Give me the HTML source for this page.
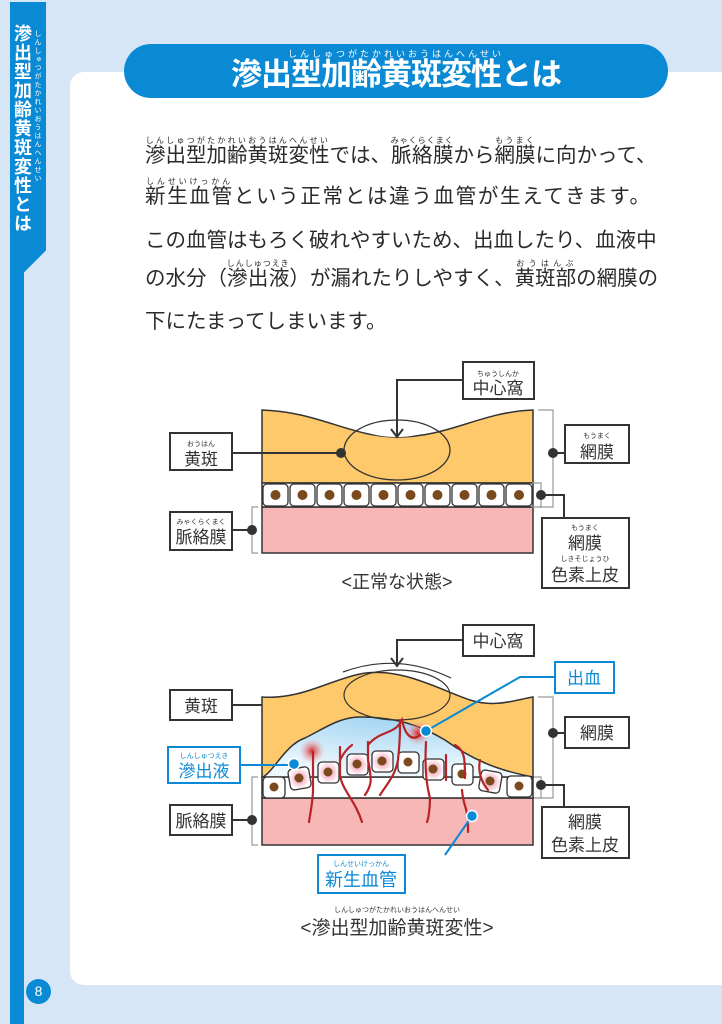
<!DOCTYPE html>
<html><head><meta charset="utf-8"><style>
*{margin:0;padding:0;box-sizing:border-box}
body{width:722px;height:1024px;overflow:hidden;background:#d6e6f6;position:relative;font-family:"Liberation Sans","Noto Sans CJK JP",sans-serif;color:#2a2a2a}
.panel{position:absolute;left:70px;top:72px;width:660px;height:913px;background:#fff;border-radius:14px 0 0 14px}
.side{position:absolute;left:10px;top:2px;width:36px;height:270px;background:#0a8ad4;clip-path:polygon(0 0,100% 0,100% 92%,40% 100%,0 100%)}
.side2{position:absolute;left:10px;top:270px;width:14px;height:754px;background:#0a8ad4}
.stext{position:absolute;left:12px;top:24px;height:220px;writing-mode:vertical-rl;color:#fff;font-weight:bold;font-size:18px;letter-spacing:1px;line-height:20px;width:20px}
.sruby{position:absolute;left:33px;top:30px;height:200px;writing-mode:vertical-rl;color:#fff;font-size:7px;letter-spacing:1.5px;line-height:9px;width:9px}
.pnum{position:absolute;left:26px;top:979px;width:25px;height:25px;border-radius:50%;background:#0a8ad4;color:#fff;font-size:14px;text-align:center;line-height:25px}
.pill{position:absolute;left:124px;top:44px;width:544px;height:54px;background:#0a8ad4;border-radius:27px;color:#fff;text-align:center}
.pill .t{position:absolute;left:0;right:0;top:14px;font-size:31px;font-weight:bold;line-height:34px;letter-spacing:-1px}
.pill .r{position:absolute;left:0;right:0;top:3px;font-size:9px;letter-spacing:3px}
.line{position:absolute;left:145px;width:505px;font-size:20.5px;line-height:24px;text-align:justify;text-align-last:justify;white-space:nowrap}
ruby{ruby-position:over}
rt{font-size:8px;letter-spacing:1px}
svg{position:absolute;left:0;top:0}
svg text{font-family:"Liberation Sans","Noto Sans CJK JP",sans-serif}
</style></head><body>
<div class="panel"></div>
<div class="side"></div><div class="side2"></div>
<div class="stext">滲出型加齢黄斑変性とは</div>
<div class="sruby">しんしゅつがたかれいおうはんへんせい</div>
<div class="pnum">8</div>
<div class="pill"><div class="r">しんしゅつがたかれいおうはんへんせい</div><div class="t">滲出型加齢黄斑変性とは</div></div>

<div class="line" style="top:136px;line-height:20px"><ruby>滲出型加齢黄斑変性<rt>しんしゅつがたかれいおうはんへんせい</rt></ruby>では、<ruby>脈絡膜<rt>みゃくらくまく</rt></ruby>から<ruby>網膜<rt>もうまく</rt></ruby>に向かって、</div>
<div class="line" style="top:177px;line-height:20px"><ruby>新生血管<rt>しんせいけっかん</rt></ruby>という正常とは違う血管が生えてきます。</div>
<div class="line" style="top:229px">この血管はもろく破れやすいため、出血したり、血液中</div>
<div class="line" style="top:259px;line-height:20px">の水分（<ruby>滲出液<rt>しんしゅつえき</rt></ruby>）が漏れたりしやすく、<ruby>黄斑部<rt>おうはんぶ</rt></ruby>の網膜の</div>
<div class="line" style="top:310px;width:auto;text-align:left;text-align-last:left">下にたまってしまいます。</div>

<svg width="722" height="1024" viewBox="0 0 722 1024">
<defs>
<radialGradient id="fl" cx="50%" cy="0%" r="90%"><stop offset="0" stop-color="#9fd3f2"/><stop offset="1" stop-color="#eef8fd"/></radialGradient>
<radialGradient id="bl"><stop offset="0" stop-color="#d42a2a"/><stop offset="1" stop-color="#f4b0b0" stop-opacity="0"/></radialGradient>
<radialGradient id="pc"><stop offset="0" stop-color="#f08aa6"/><stop offset="1" stop-color="#fff"/></radialGradient>
</defs>
<!-- Diagram 1 -->
<g stroke="#333" stroke-width="1.5">
<path d="M262,410 C320,412 350,437 397,437 C450,437 480,412 533,410 L533,483 L262,483 Z" fill="#fdc96b"/>
<rect x="262" y="507" width="271" height="46" fill="#f6b7b6"/>
<rect x="262" y="483" width="271" height="24" fill="#fff"/>
</g>
<path d="M353,428 Q397,410 441,428 C420,435 410,437 397,437 C380,437 370,434 353,428Z" fill="#fff"/>
<ellipse cx="397" cy="450" rx="53" ry="30" fill="none" stroke="#333" stroke-width="1.3"/>
<g fill="#fff" stroke="#333" stroke-width="1.3">
<rect x="263" y="484" width="25" height="22" rx="4"/><rect x="290" y="484" width="25" height="22" rx="4"/><rect x="317" y="484" width="25" height="22" rx="4"/><rect x="344" y="484" width="25" height="22" rx="4"/><rect x="371" y="484" width="25" height="22" rx="4"/><rect x="398" y="484" width="25" height="22" rx="4"/><rect x="425" y="484" width="25" height="22" rx="4"/><rect x="452" y="484" width="25" height="22" rx="4"/><rect x="479" y="484" width="25" height="22" rx="4"/><rect x="506" y="484" width="26" height="22" rx="4"/>
</g>
<g fill="#7a4a1e"><circle cx="275.5" cy="495" r="5"/><circle cx="302.5" cy="495" r="5"/><circle cx="329.5" cy="495" r="5"/><circle cx="356.5" cy="495" r="5"/><circle cx="383.5" cy="495" r="5"/><circle cx="410.5" cy="495" r="5"/><circle cx="437.5" cy="495" r="5"/><circle cx="464.5" cy="495" r="5"/><circle cx="491.5" cy="495" r="5"/><circle cx="519" cy="495" r="5"/></g>
<g fill="none" stroke="#999" stroke-width="1.2">
<path d="M538,410 H553 V507 H538"/><path d="M532,483 H541 V507 H532"/><path d="M258,507 H252 V553 H258"/>
<path d="M258,777 H252 V845 H258"/><path d="M538,697 H553 V798 H538"/><path d="M532,777 H541 V798 H532"/>
</g>
<g fill="none" stroke="#333" stroke-width="2">
<path d="M463,380 H397 V436"/><path d="M391,429 L397,437 L403,429"/>
<path d="M232,453 H341"/><path d="M553,453 H565"/><path d="M541,495 H564 V518"/><path d="M232,530 H252"/>
<path d="M463,640 H397 V665"/><path d="M391,658 L397,666 L403,658"/>
<path d="M232,705 H363"/><path d="M553,733 H565"/><path d="M541,785 H564 V807"/><path d="M232,820 H252"/>
</g>
<g fill="#333"><circle cx="341" cy="453" r="5"/><circle cx="553" cy="453" r="5"/><circle cx="541" cy="495" r="5"/><circle cx="252" cy="530" r="5"/>
<circle cx="363" cy="705" r="5"/><circle cx="553" cy="733" r="5"/><circle cx="541" cy="785" r="5"/><circle cx="252" cy="820" r="5"/></g>
<g fill="#fff" stroke="#333" stroke-width="2">
<rect x="463" y="362" width="71" height="37"/><rect x="170" y="433" width="62" height="37"/><rect x="565" y="425" width="64" height="38"/><rect x="542" y="518" width="87" height="70"/><rect x="170" y="512" width="62" height="38"/>
<rect x="463" y="625" width="71" height="31"/><rect x="170" y="690" width="62" height="30"/><rect x="565" y="717" width="64" height="31"/><rect x="170" y="805" width="62" height="30"/><rect x="542" y="807" width="87" height="51"/>
</g>
<g fill="#333" text-anchor="middle">
<text x="498" y="376" font-size="7">ちゅうしんか</text><text x="498" y="394" font-size="17">中心窩</text>
<text x="201" y="446" font-size="7">おうはん</text><text x="201" y="465" font-size="17">黄斑</text>
<text x="597" y="438" font-size="7">もうまく</text><text x="597" y="458" font-size="17">網膜</text>
<text x="585" y="530" font-size="7">もうまく</text><text x="585" y="549" font-size="17">網膜</text>
<text x="585" y="561" font-size="7">しきそじょうひ</text><text x="585" y="581" font-size="17">色素上皮</text>
<text x="201" y="524" font-size="7">みゃくらくまく</text><text x="201" y="543" font-size="17">脈絡膜</text>
<text x="397" y="588" font-size="18">&lt;正常な状態&gt;</text>
<text x="498" y="647" font-size="17">中心窩</text><text x="201" y="712" font-size="17">黄斑</text><text x="597" y="739" font-size="17">網膜</text>
<text x="201" y="827" font-size="17">脈絡膜</text><text x="585" y="828" font-size="17">網膜</text><text x="585" y="851" font-size="17">色素上皮</text>
<text x="397" y="912" font-size="7">しんしゅつがたかれいおうはんへんせい</text>
<text x="397" y="934" font-size="19">&lt;滲出型加齢黄斑変性&gt;</text>
</g>
<!-- Diagram 2 -->
<g stroke="#333" stroke-width="1.5">
<path d="M262,697 C300,700 330,680 360,674 C400,666 440,690 470,700 C495,708 515,700 533,697 L533,777 L262,777 Z" fill="#fdc96b"/>
<rect x="262" y="798" width="271" height="47" fill="#f6b7b6"/>
<rect x="262" y="777" width="271" height="21" fill="#fff"/>
<path d="M263,777 C275,770 285,745 305,738 C325,728 340,717 360,717 C395,717 420,725 445,740 C470,758 495,770 533,777 Z" fill="url(#fl)"/>
</g>
<path d="M343,672 Q397,652 451,678" fill="none" stroke="#333" stroke-width="1.2"/>
<ellipse cx="397" cy="695" rx="53" ry="25" fill="none" stroke="#333" stroke-width="1.2"/>
<circle cx="312" cy="751" r="13" fill="url(#bl)"/><circle cx="418" cy="733" r="13" fill="url(#bl)"/>
<g stroke="#333" stroke-width="1.3">
<rect x="263" y="777" width="22" height="21" rx="4" fill="#fff"/>
<rect x="289" y="768" width="21" height="21" rx="4" fill="url(#pc)" transform="rotate(-10 299 778)"/>
<rect x="318" y="762" width="21" height="21" rx="4" fill="url(#pc)"/>
<rect x="347" y="754" width="21" height="21" rx="4" fill="url(#pc)"/>
<rect x="372" y="751" width="21" height="21" rx="4" fill="url(#pc)"/>
<rect x="398" y="752" width="21" height="21" rx="4" fill="#fff"/>
<rect x="423" y="759" width="21" height="21" rx="4" fill="url(#pc)"/>
<rect x="452" y="764" width="21" height="21" rx="4" fill="#fff"/>
<rect x="480" y="771" width="21" height="21" rx="4" fill="url(#pc)" transform="rotate(10 490 781)"/>
<rect x="507" y="776" width="25" height="21" rx="4" fill="#fff"/>
</g>
<g fill="#7a4a1e"><circle cx="274" cy="787" r="4.5"/><circle cx="299" cy="778" r="4.5"/><circle cx="328" cy="772" r="4.5"/><circle cx="357" cy="764" r="4.5"/><circle cx="382" cy="761" r="4.5"/><circle cx="408" cy="762" r="4.5"/><circle cx="433" cy="769" r="4.5"/><circle cx="462" cy="774" r="4.5"/><circle cx="490" cy="781" r="4.5"/><circle cx="519" cy="786" r="4.5"/></g>
<g fill="none" stroke="#b8232a" stroke-width="2.2" stroke-linecap="round">
<path d="M313,752 V790 C313,800 310,815 309,822"/>
<path d="M340,747 V775 C342,790 355,800 362,822"/>
<path d="M340,760 Q345,750 352,745"/>
<path d="M368,742 V760 C372,780 372,785 365,795"/>
<path d="M368,745 C380,730 395,735 402,720 C405,735 412,742 420,735"/>
<path d="M400,720 V728 Q400,740 398,760 C395,775 390,780 380,795"/>
<path d="M426,742 C425,760 425,780 430,798 C430,810 428,820 427,822"/>
<path d="M446,755 V780"/>
<path d="M455,745 C465,750 465,760 465,778"/>
<path d="M480,760 C478,770 480,780 488,790"/>
<path d="M462,790 C463,805 468,810 467,818 M468,824 V832"/>
</g>
<g fill="none" stroke="#0a8ad4" stroke-width="2">
<path d="M555,677 H520 L426,731"/><path d="M240,765 H294"/><path d="M445,855 L472,816"/>
</g>
<g fill="#0a8ad4" stroke="#fff" stroke-width="1.5"><circle cx="426" cy="731" r="5.5"/><circle cx="294" cy="764" r="5.5"/><circle cx="472" cy="816" r="5.5"/></g>
<g fill="#fff" stroke="#0a8ad4" stroke-width="2">
<rect x="555" y="662" width="59" height="31"/><rect x="168" y="747" width="72" height="36"/><rect x="318" y="855" width="87" height="38"/>
</g>
<g fill="#0a8ad4" text-anchor="middle">
<text x="584" y="684" font-size="17">出血</text>
<text x="204" y="758" font-size="7">しんしゅつえき</text><text x="204" y="777" font-size="17">滲出液</text>
<text x="361" y="866" font-size="7">しんせいけっかん</text><text x="361" y="886" font-size="18">新生血管</text>
</g>
</svg>
</body></html>
